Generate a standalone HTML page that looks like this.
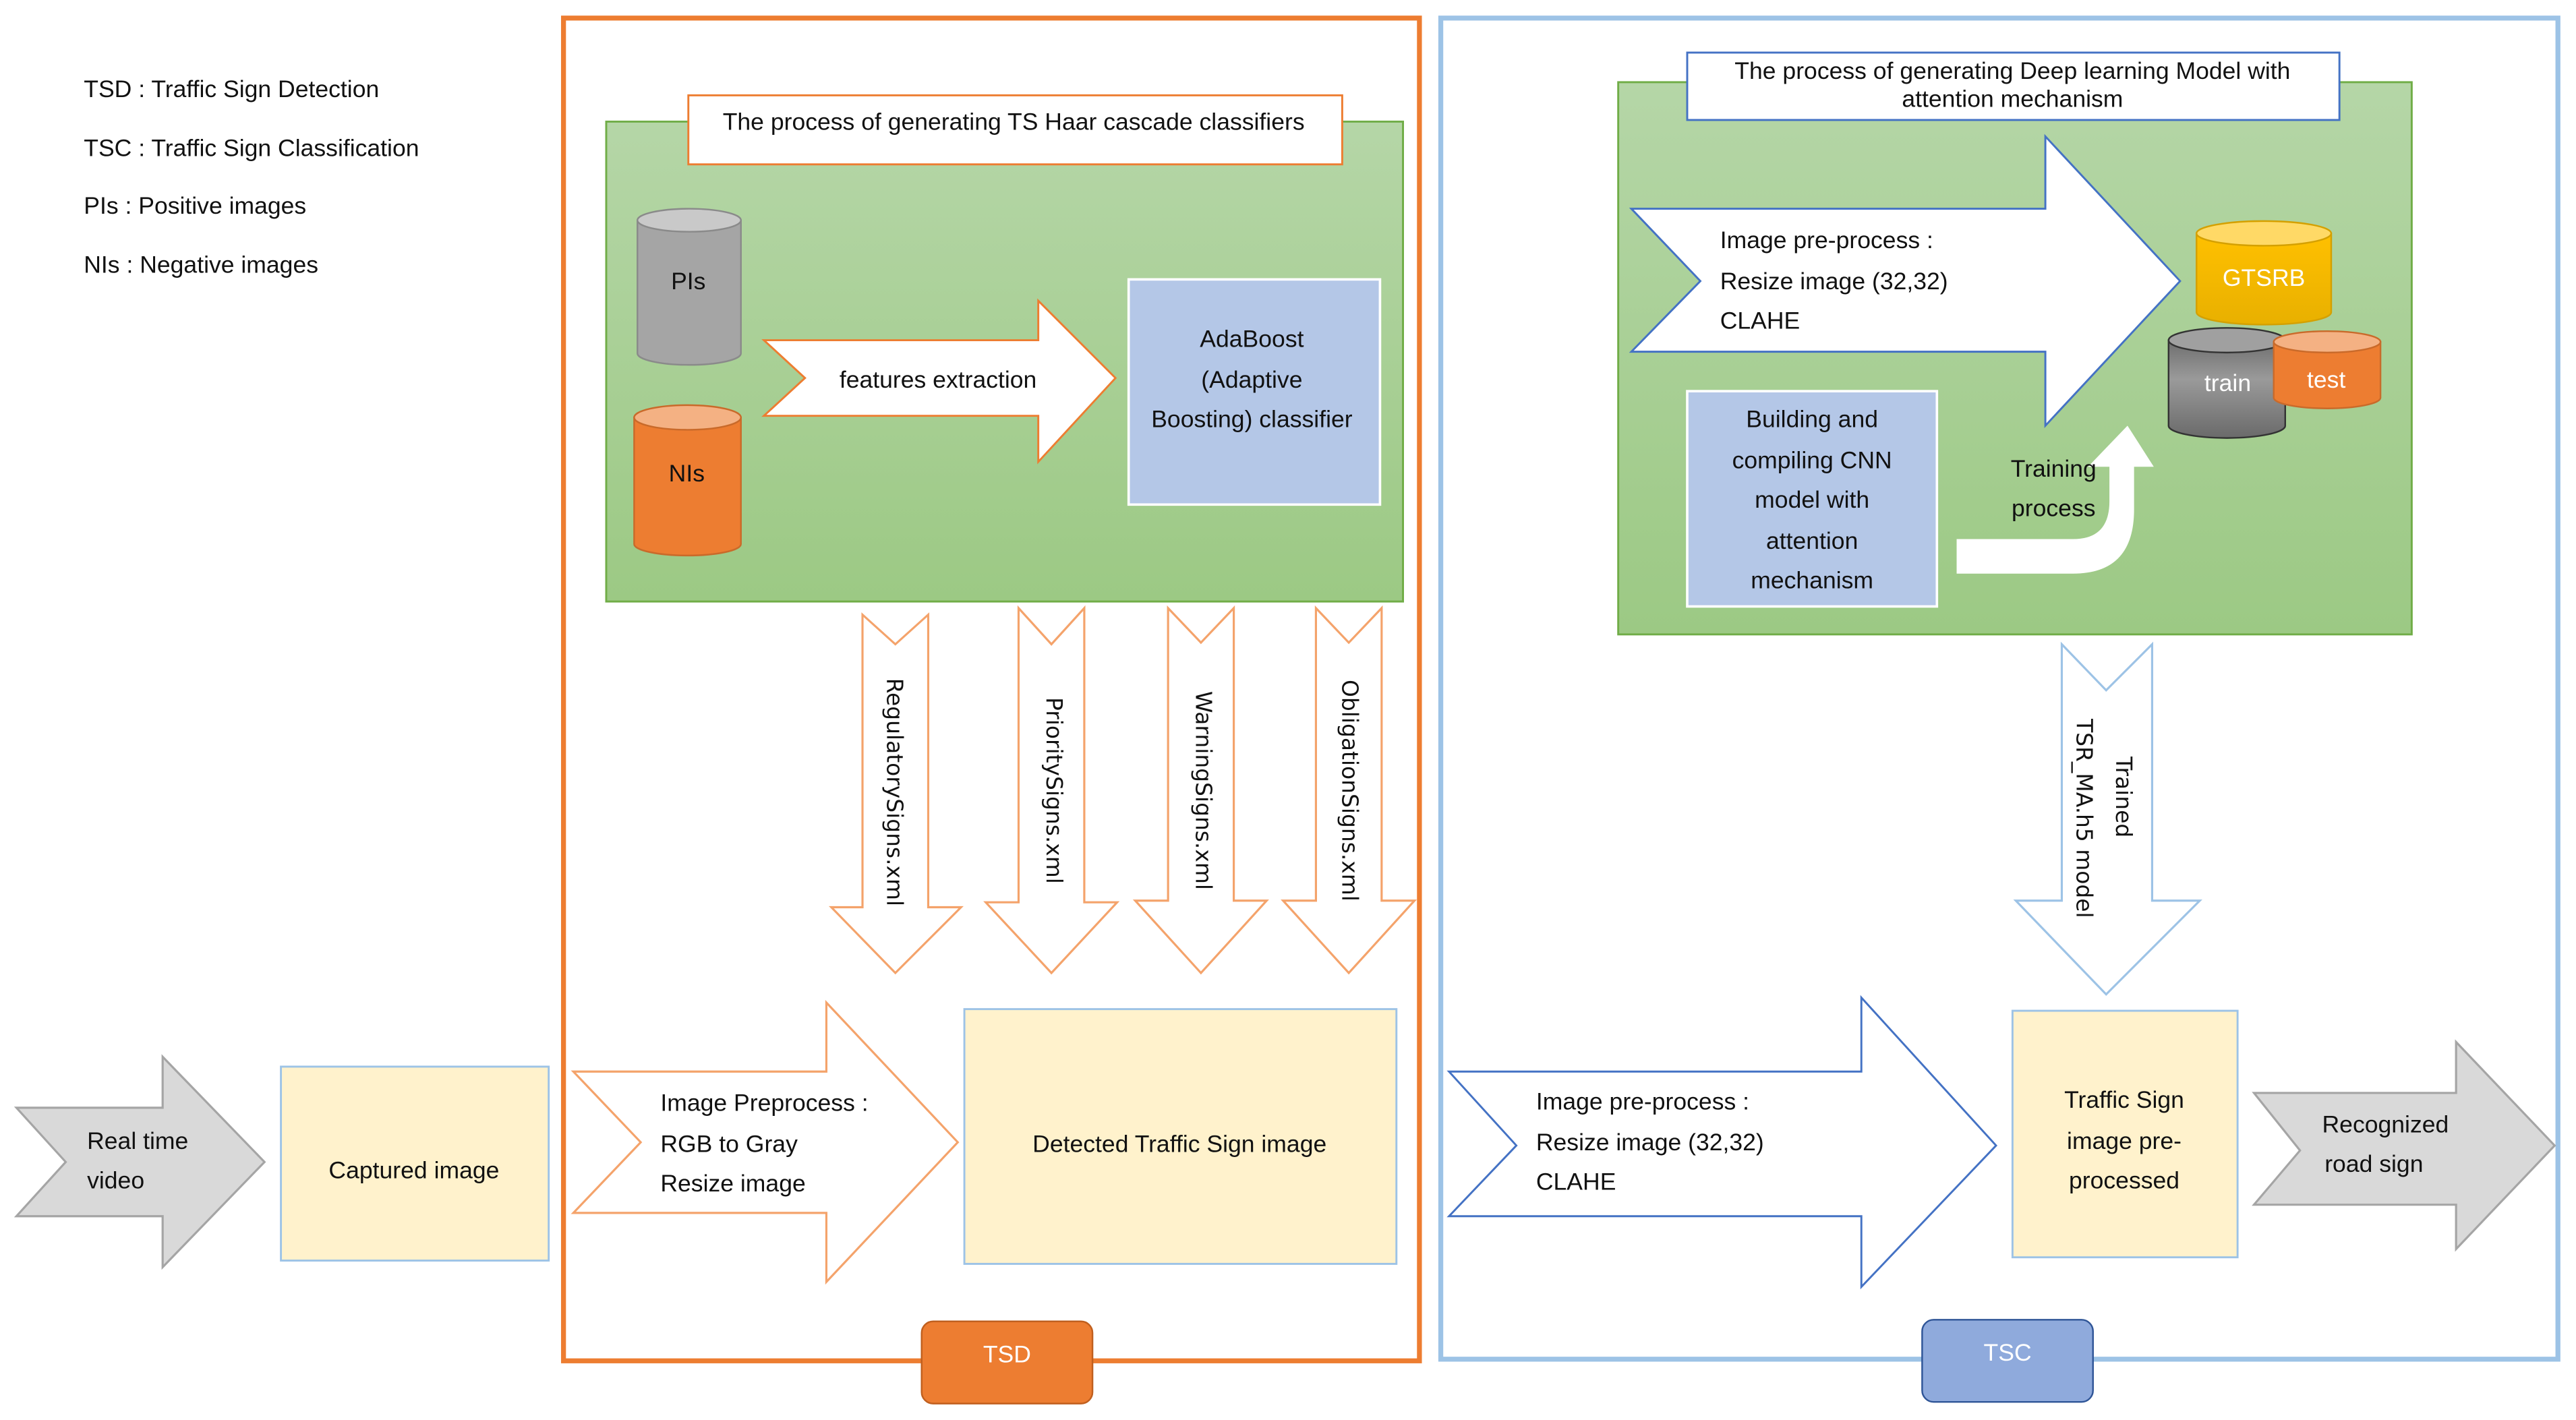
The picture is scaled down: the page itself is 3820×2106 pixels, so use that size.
<!DOCTYPE html>
<html><head><meta charset="utf-8"><style>
html,body{margin:0;padding:0;background:#fff;}
svg{display:block;}
text{font-family:"Liberation Sans Narrow","Liberation Sans",sans-serif;font-size:14.6px;fill:#111;}
.r{font-family:"DejaVu Sans","Liberation Sans",sans-serif;font-size:13.5px;}
.c{text-anchor:middle;}
.w{fill:#fff;}
</style></head><body>
<svg width="3820" height="2106" viewBox="0 0 1568 864" preserveAspectRatio="none" xmlns="http://www.w3.org/2000/svg">
<defs>
<linearGradient id="g" x1="0" y1="0" x2="0" y2="1"><stop offset="0" stop-color="#B5D6A7"/><stop offset="1" stop-color="#9CC984"/></linearGradient>
<linearGradient id="gy" x1="0" y1="0" x2="0" y2="1"><stop offset="0" stop-color="#FFC000"/><stop offset="1" stop-color="#E8B000"/></linearGradient>
<linearGradient id="gg" x1="0" y1="0" x2="0" y2="1"><stop offset="0" stop-color="#6e6e6e"/><stop offset="0.4" stop-color="#9a9a9a"/><stop offset="1" stop-color="#6a6a6a"/></linearGradient>
</defs>
<rect width="1568" height="864" fill="#fff"/>
<text x="51" y="59">TSD : Traffic Sign Detection</text>
<text x="51" y="95">TSC : Traffic Sign Classification</text>
<text x="51" y="130">PIs : Positive images</text>
<text x="51" y="166">NIs : Negative images</text>

<rect x="343" y="11" width="521" height="817" fill="none" stroke="#ED7D31" stroke-width="3"/>
<rect x="877" y="11" width="680" height="816" fill="none" stroke="#9DC3E6" stroke-width="3"/>

<rect x="369" y="74" width="485" height="292" fill="url(#g)" stroke="#70AD47" stroke-width="1.2"/>
<rect x="419" y="58" width="398" height="42" fill="#fff" stroke="#ED7D31" stroke-width="1.2"/>
<text x="617" y="79" class="c">The process of  generating TS Haar cascade classifiers</text>

<path d="M388,134 L388,215 A31.5,7 0 0 0 451,215 L451,134 Z" fill="#A5A5A5" stroke="#8a8a8a"/>
<ellipse cx="419.5" cy="134" rx="31.5" ry="7" fill="#C9C9C9" stroke="#8a8a8a"/>
<text x="419" y="176" class="c">PIs</text>
<path d="M386,254 L386,331 A32.5,7 0 0 0 451,331 L451,254 Z" fill="#ED7D31" stroke="#c96a2a"/>
<ellipse cx="418.5" cy="254" rx="32.5" ry="7.5" fill="#F4B183" stroke="#c96a2a"/>
<text x="418" y="293" class="c">NIs</text>

<path d="M465,207 L632,207 L632,183 L679,230 L632,281 L632,253 L465,253 L490,230 Z" fill="#fff" stroke="#ED7D31" stroke-width="1.2"/>
<text x="571" y="236" class="c">features extraction</text>

<rect x="687" y="170" width="153" height="137" fill="#B4C7E7" stroke="#fff" stroke-width="1.5"/>
<text x="762" y="211" class="c">AdaBoost</text>
<text x="762" y="236" class="c">(Adaptive</text>
<text x="762" y="260" class="c">Boosting) classifier</text>

<g fill="#fff" stroke="#F4A36B" stroke-width="1.3">
<path d="M525,374 L545,392 L565,374 L565,552 L585,552 L545,592 L506,552 L525,552 Z"/>
<path d="M620,370 L640,392 L660,370 L660,549 L680,549 L640,592 L600,549 L620,549 Z"/>
<path d="M711,370 L731,391 L751,370 L751,548 L771,548 L731,592 L691,548 L711,548 Z"/>
<path d="M801,370 L821,391 L841,370 L841,548 L861,548 L821,592 L781,548 L801,548 Z"/>
</g>
<text class="r c" transform="translate(540,482) rotate(90)">RegulatorySigns.xml</text>
<text class="r c" transform="translate(637,481) rotate(90)">PrioritySigns.xml</text>
<text class="r c" transform="translate(728,481) rotate(90)">WarningSigns.xml</text>
<text class="r c" transform="translate(817,481) rotate(90)">ObligationSigns.xml</text>

<path d="M349,652 L503,652 L503,610 L583,695 L503,780 L503,738 L349,738 L390,695 Z" fill="#fff" stroke="#F4A36B" stroke-width="1.3"/>
<text x="402" y="676">Image Preprocess :</text>
<text x="402" y="701">RGB to Gray</text>
<text x="402" y="725">Resize image</text>

<rect x="587" y="614" width="263" height="155" fill="#FFF2CC" stroke="#9DC3E6" stroke-width="1.2"/>
<text x="718" y="701" class="c">Detected Traffic Sign image</text>

<path d="M10,674 L99,674 L99,643 L161,707 L99,771 L99,740 L10,740 L40,707 Z" fill="#D9D9D9" stroke="#A5A5A5" stroke-width="1.3"/>
<text x="53" y="699">Real time</text>
<text x="53" y="723">video</text>
<rect x="171" y="649" width="163" height="118" fill="#FFF2CC" stroke="#9DC3E6" stroke-width="1.2"/>
<text x="252" y="717" class="c">Captured image</text>

<rect x="561" y="804" width="104" height="50" rx="7" fill="#ED7D31" stroke="#c05f1e"/>
<text x="613" y="829" class="c w">TSD</text>
<rect x="1170" y="803" width="104" height="50" rx="7" fill="#8FAADC" stroke="#2F5597"/>
<text x="1222" y="828" class="c w">TSC</text>

<rect x="985" y="50" width="483" height="336" fill="url(#g)" stroke="#70AD47" stroke-width="1.2"/>
<rect x="1027" y="32" width="397" height="41" fill="#fff" stroke="#4472C4" stroke-width="1.2"/>
<text x="1225" y="48" class="c">The process of  generating Deep learning Model with</text>
<text x="1225" y="65" class="c">attention mechanism</text>

<path d="M993,127 L1245,127 L1245,83 L1327,171 L1245,259 L1245,214 L993,214 L1035,171 Z" fill="#fff" stroke="#4472C4" stroke-width="1.2"/>
<text x="1047" y="151">Image pre-process :</text>
<text x="1047" y="176">Resize image (32,32)</text>
<text x="1047" y="200">CLAHE</text>

<path d="M1337,142 L1337,190 A41,7.5 0 0 0 1419,190 L1419,142 Z" fill="url(#gy)" stroke="#d4a000"/>
<ellipse cx="1378" cy="142" rx="41" ry="7.5" fill="#FFD966" stroke="#d4a000"/>
<text x="1378" y="174" class="c w">GTSRB</text>
<path d="M1320,207 L1320,259 A35.5,7.5 0 0 0 1391,259 L1391,207 Z" fill="url(#gg)" stroke="#333"/>
<ellipse cx="1355.5" cy="207" rx="35.5" ry="7.5" fill="#a0a0a0" stroke="#333"/>
<text x="1356" y="238" class="c w">train</text>
<path d="M1384,208 L1384,242 A32.5,6.5 0 0 0 1449,242 L1449,208 Z" fill="#ED7D31" stroke="#c96a2a"/>
<ellipse cx="1416.5" cy="208" rx="32.5" ry="6.5" fill="#F4B183" stroke="#c96a2a"/>
<text x="1416" y="236" class="c w">test</text>

<rect x="1027" y="238" width="152" height="131" fill="#B4C7E7" stroke="#fff" stroke-width="1.5"/>
<text x="1103" y="260" class="c">Building and</text>
<text x="1103" y="285" class="c">compiling CNN</text>
<text x="1103" y="309" class="c">model with</text>
<text x="1103" y="334" class="c">attention</text>
<text x="1103" y="358" class="c">mechanism</text>

<path d="M1191,328 L1262,328 Q1284,328 1284,305 L1284,284 L1271,284 L1295,259 L1311,284 L1299,284 L1299,310 Q1299,349 1262,349 L1191,349 Z" fill="#fff"/>
<text x="1250" y="290" class="c">Training</text>
<text x="1250" y="314" class="c">process</text>

<path d="M1255,392 L1282,420 L1310,392 L1310,548 L1339,548 L1282,605 L1227,548 L1255,548 Z" fill="#fff" stroke="#9DC3E6" stroke-width="1.3"/>
<text class="r c" transform="translate(1288,485) rotate(90)">Trained</text>
<text class="r c" transform="translate(1264,498) rotate(90)">TSR_MA.h5 model</text>

<path d="M882,652 L1133,652 L1133,607 L1215,697 L1133,783 L1133,740 L882,740 L923,697 Z" fill="#fff" stroke="#4472C4" stroke-width="1.2"/>
<text x="935" y="675">Image pre-process :</text>
<text x="935" y="700">Resize image (32,32)</text>
<text x="935" y="724">CLAHE</text>

<rect x="1225" y="615" width="137" height="150" fill="#FFF2CC" stroke="#9DC3E6" stroke-width="1.2"/>
<text x="1293" y="674" class="c">Traffic Sign</text>
<text x="1293" y="699" class="c">image pre-</text>
<text x="1293" y="723" class="c">processed</text>

<path d="M1372,665 L1495,665 L1495,634 L1555,697 L1495,760 L1495,733 L1372,733 L1400,700 Z" fill="#D9D9D9" stroke="#A5A5A5" stroke-width="1.3"/>
<text x="1452" y="689" class="c">Recognized</text>
<text x="1445" y="713" class="c">road sign</text>
</svg>
</body></html>
